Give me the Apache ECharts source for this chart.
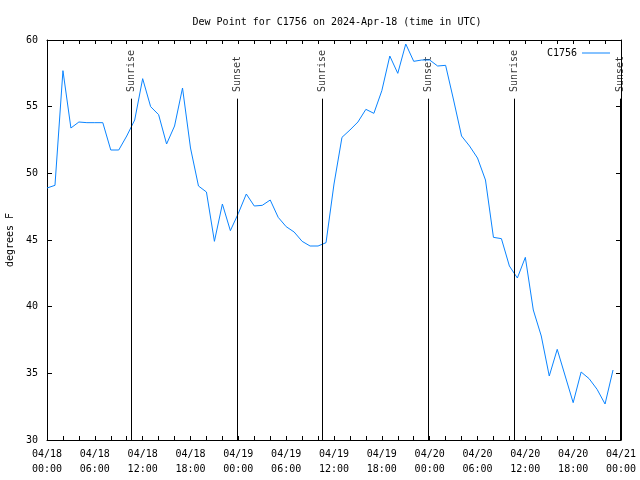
<!DOCTYPE html>
<html><head><meta charset="utf-8">
<script src="https://cdn.jsdelivr.net/npm/echarts@6/dist/echarts.min.js"></script>
<style>html,body{margin:0;padding:0;background:#fff}#c{width:640px;height:480px}</style>
</head><body><div id="c"></div>
<script>
// Hours since 2024-04-18 00:00 UTC
const hours = [0,1,2,3,4,5,6,7,8,9,10,11,12,13,14,15,16,17,18,19,20,21,22,23,24,25,26,27,28,29,30,31,32,33,34,35,36,37,38,39,40,41,42,43,44,45,46,47,48,49,50,51,52,53,54,55,56,57,58,59,60,61,62,63,64,65,66,67,68,69,70,71];
const dewPoint = [48.9,49.1,57.7,53.4,53.85,53.8,53.8,53.8,51.75,51.75,
  52.8,54.0,57.1,55.0,54.4,52.2,53.55,56.4,51.9,49.05,
  48.6,44.9,47.7,45.7,47.0,48.45,47.55,47.6,48.0,46.7,
  46.0,45.6,44.9,44.55,44.55,44.8,49.2,52.7,53.25,53.85,
  54.8,54.5,56.2,58.8,57.5,59.7,58.4,58.5,58.5,58.05,
  58.1,55.5,52.8,52.05,51.15,49.5,45.2,45.1,43.05,42.15,
  43.7,39.75,37.8,34.8,36.8,34.8,32.8,35.1,34.6,33.8,
  32.7,35.25];
const sunHours = [10.55, 23.87, 34.55, 47.85, 58.65, 71.93];
const sunNames = ['Sunrise','Sunset','Sunrise','Sunset','Sunrise','Sunset'];
const xTickLabels = ['04/18\n00:00','04/18\n06:00','04/18\n12:00','04/18\n18:00','04/19\n00:00','04/19\n06:00','04/19\n12:00','04/19\n18:00','04/20\n00:00','04/20\n06:00','04/20\n12:00','04/20\n18:00','04/21\n00:00'];
const sunLineTop = 55.6;
const sunLabelY = 56.1;

const FONT = 'DejaVu Sans Mono';
const chart = echarts.init(document.getElementById('c'), null, {renderer:'canvas'});
const axisCommon = {
  type:'value', min:0, max:72, interval:2,
  axisLine:{show:true, onZero:false, lineStyle:{color:'#000', width:1}},
  axisTick:{show:true, inside:true, length:4, lineStyle:{color:'#000'}},
  splitLine:{show:false}
};
const yCommon = {
  type:'value', min:30, max:60, interval:5,
  axisLine:{show:true, onZero:false, lineStyle:{color:'#000', width:1}},
  axisTick:{show:true, inside:true, length:5, lineStyle:{color:'#000'}},
  splitLine:{show:false}
};
chart.setOption({
  animation:false,
  backgroundColor:'#fff',
  title:{text:'Dew Point for C1756 on 2024-Apr-18 (time in UTC)', left:332, top:12, textAlign:'center',
    textStyle:{fontFamily:FONT, fontSize:10, fontWeight:'normal', color:'#000'}},
  legend:{data:[{name:'C1756', icon:'rect'}], right:25, top:43, align:'right', itemWidth:28, itemHeight:1,
    textStyle:{fontFamily:FONT, fontSize:10, color:'#000'}},
  grid:{left:47, right:19, top:40, bottom:40, containLabel:false, outerBoundsMode:'none'},
  xAxis:[
    Object.assign({}, axisCommon, {position:'bottom',
      axisLabel:{show:true, margin:7, fontFamily:FONT, fontSize:10, color:'#000', lineHeight:15,
        formatter:function(v){ return (v % 6 === 0) ? xTickLabels[v/6] : ''; }}}),
    Object.assign({}, axisCommon, {position:'top', axisLabel:{show:false}})
  ],
  yAxis:[
    Object.assign({}, yCommon, {position:'left', name:'degrees F', nameLocation:'middle', nameGap:32, nameRotate:90,
      nameTextStyle:{fontFamily:FONT, fontSize:10, color:'#000'},
      axisLabel:{show:true, margin:9, fontFamily:FONT, fontSize:10, color:'#000'}}),
    Object.assign({}, yCommon, {position:'right', axisLabel:{show:false}})
  ],
  series:[
    {name:'C1756', type:'line', xAxisIndex:0, yAxisIndex:0, symbol:'none',
      color:'#0a84ff', lineStyle:{width:1, color:'#0a84ff'},
      data: hours.map(function(h,i){ return [h, dewPoint[i]]; })},
    {name:'sun', type:'scatter', xAxisIndex:0, yAxisIndex:0, symbolSize:0, silent:true,
      data: sunHours.map(function(h,i){ return {value:[h, sunLabelY], label:{formatter:sunNames[i]}}; }),
      label:{show:true, position:'inside', rotate:90, align:'left', verticalAlign:'middle',
        fontFamily:FONT, fontSize:10, color:'#000'},
      markLine:{silent:true, symbol:['none','none'], label:{show:false},
        lineStyle:{color:'#000', width:1, type:'solid'},
        data: sunHours.map(function(h){ return [{coord:[h, sunLineTop]}, {coord:[h, 30]}]; })}
    }
  ]
});
</script></body></html>
